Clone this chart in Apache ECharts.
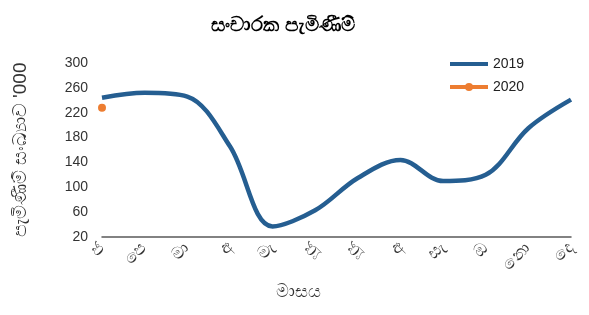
<!DOCTYPE html>
<html>
<head>
<meta charset="utf-8">
<script src="https://cdn.jsdelivr.net/npm/echarts@6/dist/echarts.min.js"></script>
<style>
  html, body { margin: 0; padding: 0; background: #fff; }
  #chart { width: 589px; height: 315px; }
</style>
</head>
<body>
<div id="chart"></div>
<script>
const months = ['ජ', 'පෙ', 'මා', 'අ', 'මැ', 'ජූ', 'ජූ', 'අ', 'සැ', 'ඔ', 'නො', 'දෙ']
const arrivals2019 = [244, 252, 246, 166, 37, 63, 115, 144, 110, 120, 195, 241]
const arrivals2020 = [228]
const yTicks = [20, 60, 100, 140, 180, 220, 260, 300]

const font = 'Liberation Sans, DejaVu Sans, sans-serif'

const chart = echarts.init(document.getElementById('chart'))
chart.setOption({
  animation: false,
  title: {
    text: 'සංචාරක පැමිණීම්',
    left: 206,
    top: 10,
    textStyle: { fontSize: 20, fontWeight: 'bold', color: '#000', fontFamily: font }
  },
  legend: {
    orient: 'vertical',
    left: 443,
    top: 52,
    itemWidth: 38,
    itemHeight: 10,
    itemGap: 9,
    itemGap: 9,
    textStyle: { fontSize: 14, color: '#222', fontFamily: font },
    data: [
      { name: '2019', itemStyle: { opacity: 0 }, lineStyle: { width: 4 } },
      { name: '2020', lineStyle: { width: 4 } }
    ]
  },
  grid: { left: 102, right: 18, top: 63, bottom: 78, outerBoundsMode: 'none', containLabel: false },
  xAxis: {
    type: 'category',
    data: months,
    boundaryGap: false,
    name: 'මාසය',
    nameLocation: 'middle',
    nameGap: 46,
    nameTextStyle: { fontSize: 18, color: '#333', fontFamily: font, padding: [0, 76, 0, 0] },
    axisLine: { lineStyle: { color: '#595959', width: 1.5 } },
    axisTick: { show: false },
    axisLabel: { rotate: 45, fontSize: 17, color: '#333', margin: 8, fontFamily: font }
  },
  yAxis: {
    type: 'value',
    min: 20,
    max: 300,
    interval: 20,
    name: "පැමිණීම් සංඛ්‍යාව '000",
    nameLocation: 'middle',
    nameGap: 72,
    nameTextStyle: { fontSize: 19, color: '#333', fontFamily: font },
    axisLine: { show: false },
    axisTick: { show: false },
    splitLine: { show: false },
    axisLabel: {
      fontSize: 14,
      color: '#333',
      margin: 14,
      fontFamily: font,
      formatter: v => (yTicks.includes(v) ? String(v) : '')
    }
  },
  series: [
    {
      name: '2019',
      type: 'line',
      data: arrivals2019,
      smooth: 0.35,
      showSymbol: false,
      symbol: 'none',
      lineStyle: { color: '#255e91', width: 4.5 },
      itemStyle: { color: '#255e91' }
    },
    {
      name: '2020',
      type: 'line',
      data: arrivals2020,
      symbol: 'circle',
      symbolSize: 8,
      lineStyle: { color: '#ed7d31', width: 4.5 },
      itemStyle: { color: '#ed7d31' }
    }
  ]
})
</script>
</body>
</html>
